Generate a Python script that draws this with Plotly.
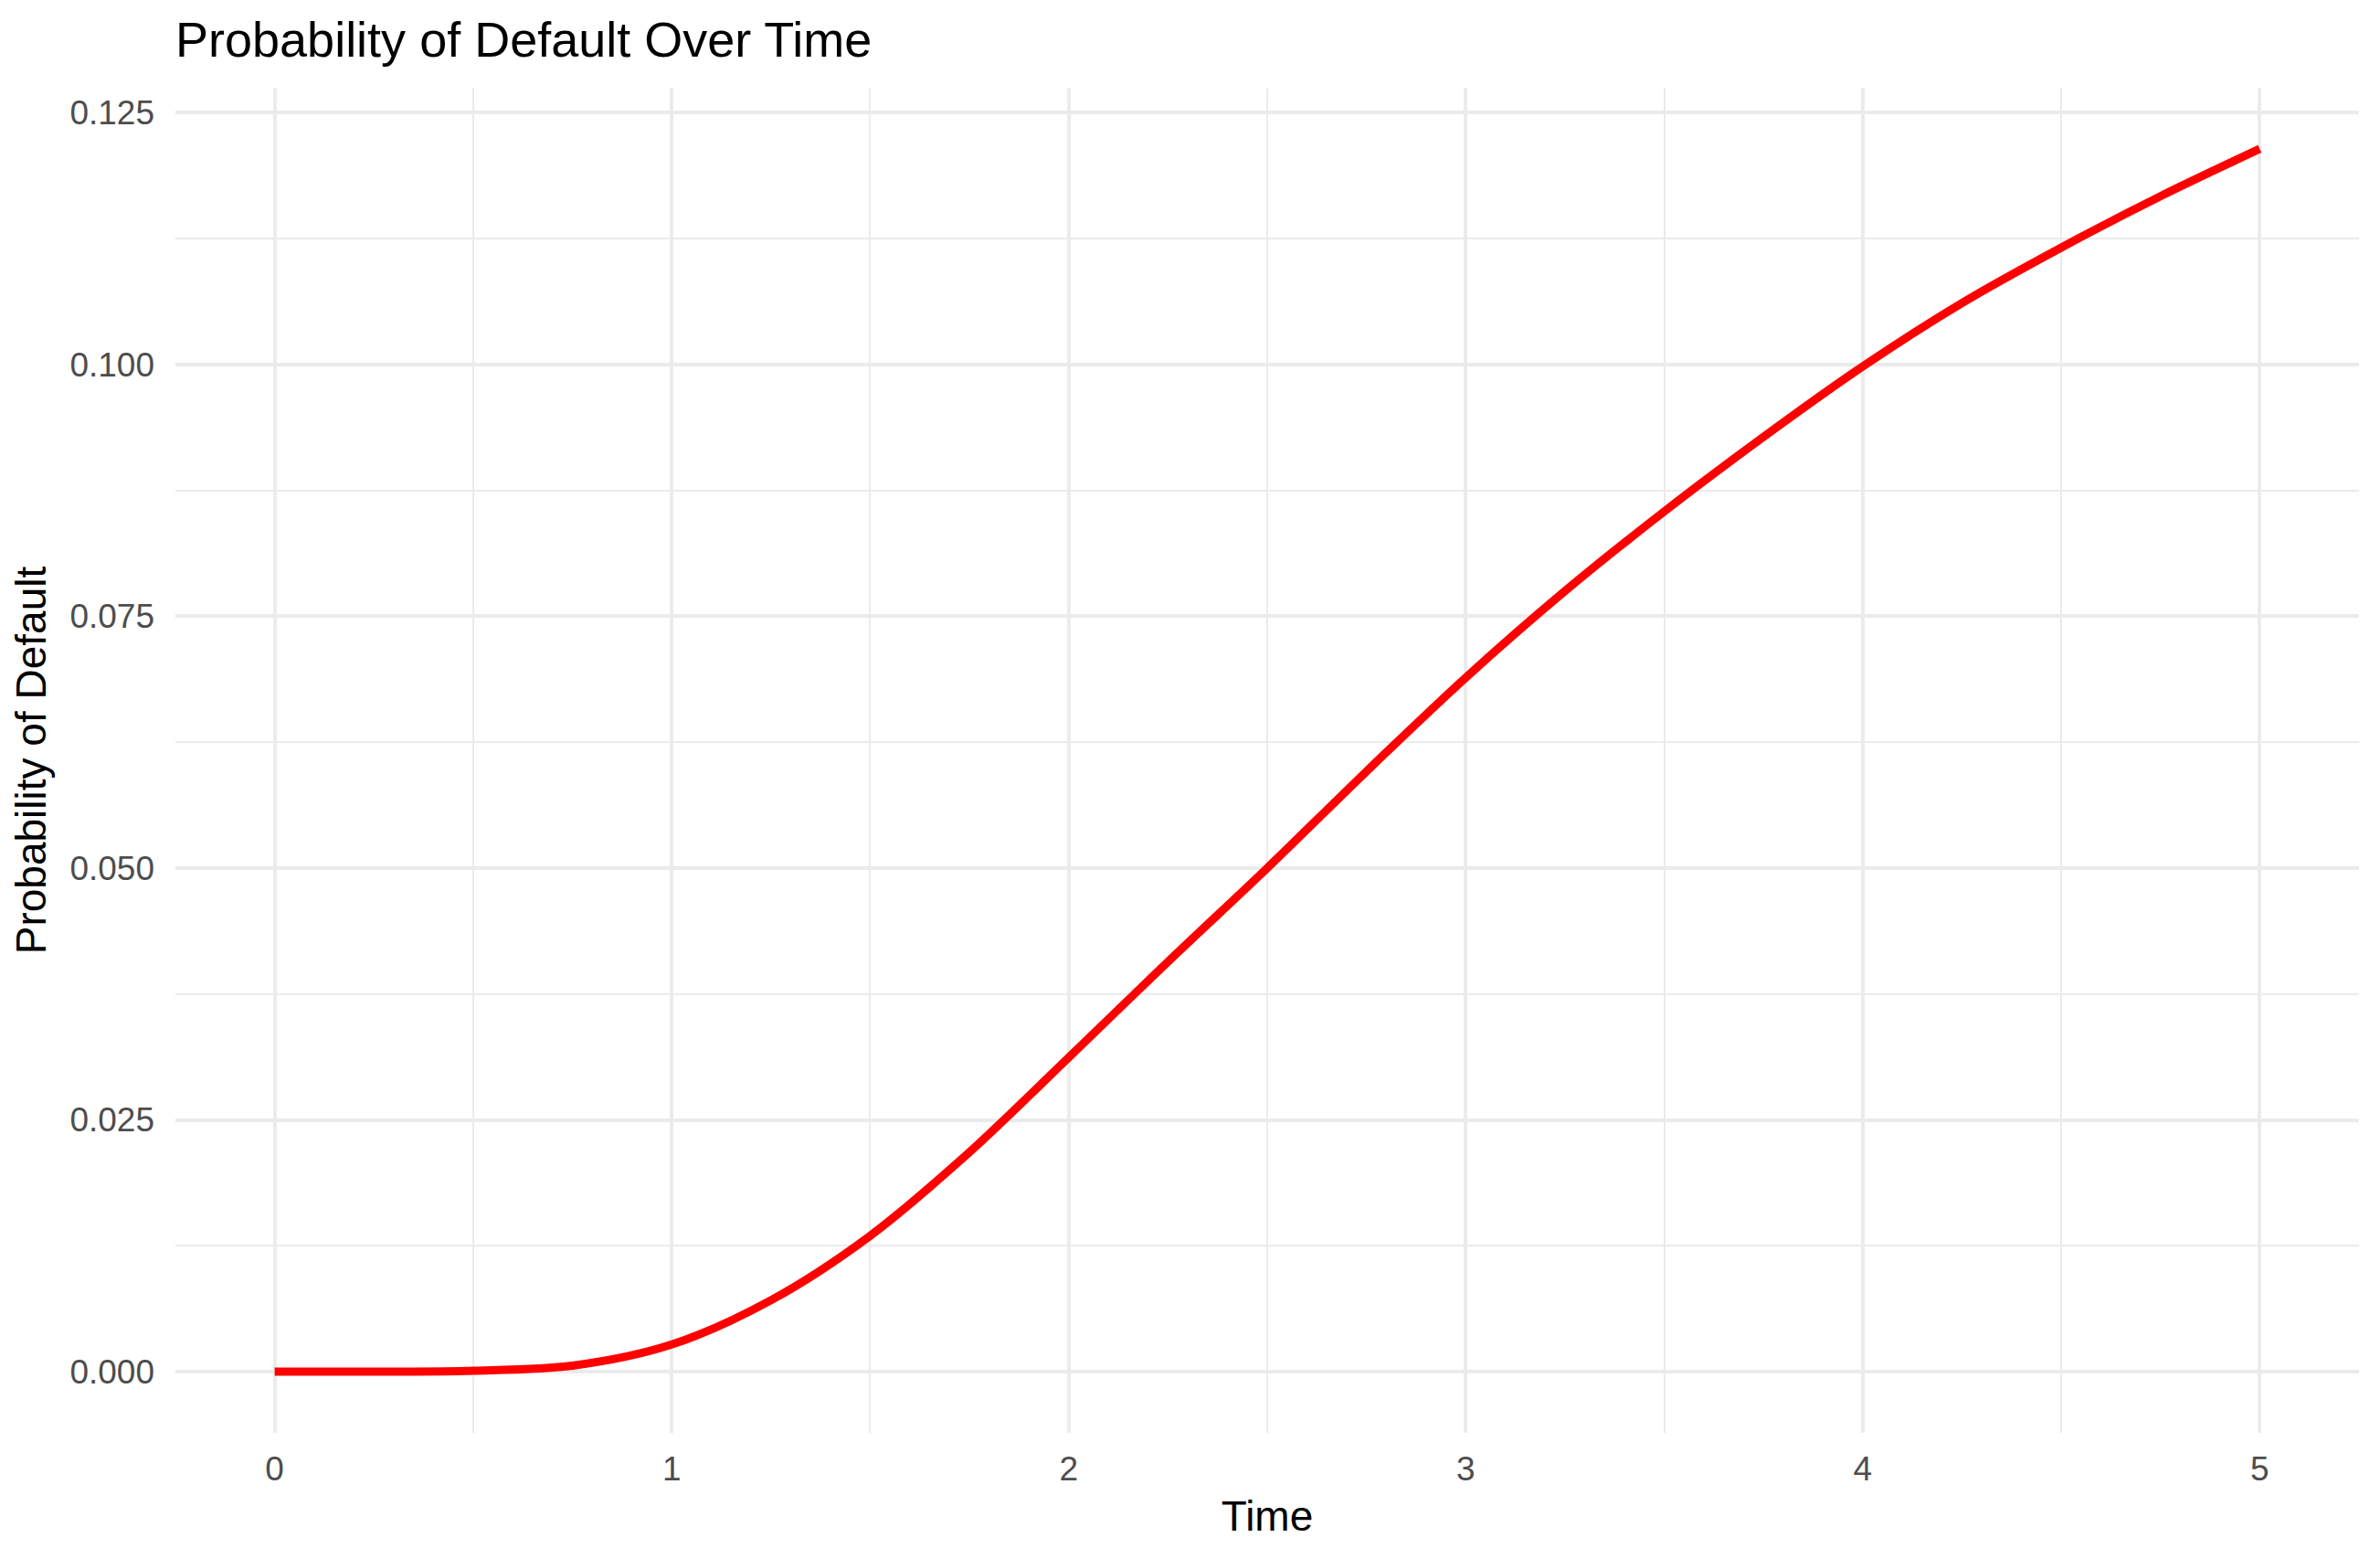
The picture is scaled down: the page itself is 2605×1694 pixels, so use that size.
import plotly.graph_objects as go

# Data
time = [0, 0.25, 0.5, 0.75, 1.0, 1.25, 1.5, 1.75, 2.0, 2.25, 2.5, 2.75,
        3.0, 3.25, 3.5, 3.75, 4.0, 4.25, 4.5, 4.75, 5.0]
prob_default = [0.0, 0.0, 0.0001, 0.0006, 0.0027, 0.0071, 0.0135, 0.0218,
                0.0312, 0.0407, 0.0500, 0.0596, 0.0689, 0.0775, 0.0854,
                0.0928, 0.0998, 0.1061, 0.1116, 0.1167, 0.1214]

x_ticks = [0, 1, 2, 3, 4, 5]
y_ticks = [0.000, 0.025, 0.050, 0.075, 0.100, 0.125]
y_tick_labels = ["0.000", "0.025", "0.050", "0.075", "0.100", "0.125"]

FONT = "Liberation Sans, Arial, sans-serif"
GRID = "#EBEBEB"

fig = go.Figure()
fig.add_trace(go.Scatter(
    x=time, y=prob_default, mode="lines",
    line=dict(color="#FF0000", width=9, shape="spline", smoothing=0.9),
    showlegend=False, hoverinfo="x+y",
))

fig.update_layout(
    width=2605, height=1694,
    paper_bgcolor="white", plot_bgcolor="white",
    margin=dict(l=184, r=31, t=88, b=134),
    font=dict(family=FONT, color="black"),
    title=dict(text="Probability of Default Over Time",
               font=dict(family=FONT, size=54, color="black"),
               x=0, xref="paper", xanchor="left",
               y=1 - 35 / 1694, yref="container", yanchor="middle"),
    xaxis=dict(
        range=[-0.25, 5.25], tickvals=x_ticks, ticktext=[str(v) for v in x_ticks],
        showgrid=True, gridcolor=GRID, gridwidth=4.4, zeroline=False,
        showline=False, ticks="", ticklabelstandoff=14,
        tickfont=dict(family=FONT, size=37, color="#4D4D4D"),
        minor=dict(dtick=0.5, tick0=0, showgrid=True, gridcolor=GRID, gridwidth=2.2),
        title=dict(text="Time", font=dict(family=FONT, size=46, color="black"),
                   standoff=15),
        automargin=False,
    ),
    yaxis=dict(
        range=[-0.00607, 0.12747], tickvals=y_ticks, ticktext=y_tick_labels,
        showgrid=True, gridcolor=GRID, gridwidth=4.4, zeroline=False,
        showline=False, ticks="", ticklabelstandoff=22,
        tickfont=dict(family=FONT, size=37, color="#4D4D4D"),
        minor=dict(dtick=0.0125, tick0=0, showgrid=True, gridcolor=GRID, gridwidth=2.2),
        title=dict(text="Probability of Default", font=dict(family=FONT, size=46, color="black"),
                   standoff=12),
        automargin=False,
    ),
)

fig.write_html("out.html")
